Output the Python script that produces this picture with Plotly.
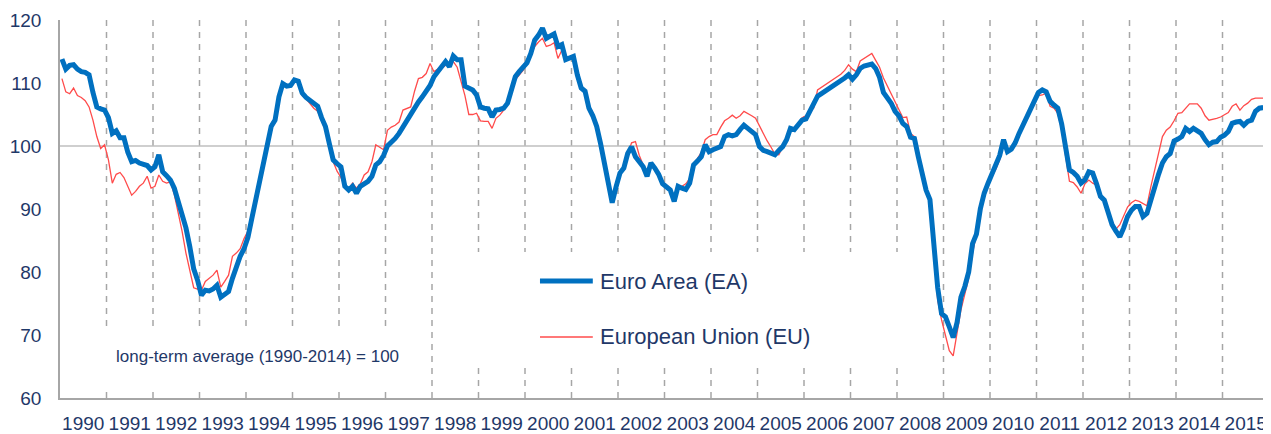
import plotly.graph_objects as go

years = list(range(1990, 2016))

ea_1990 = [113.8, 112.2, 112.8, 112.9, 112.2, 111.8, 111.7, 111.3, 108.5, 106.2, 105.9, 105.7]
ea_1991 = [104.5, 102.0, 102.4, 101.3, 101.3, 99.0, 97.5, 97.7, 97.3, 97.0, 96.9, 96.2]
ea_1992 = [96.7, 98.6, 95.9, 95.3, 94.6, 93.3, 91.0, 89.4, 87.0, 84.0, 80.5, 78.7]
ea_1993 = [76.3, 77.1, 77.0, 77.3, 77.9, 76.0, 76.4, 76.9, 79.0, 80.8, 82.5, 83.7]
ea_1994 = [85.5, 88.5, 91.4, 94.5, 97.2, 100.0, 103.1, 104.1, 107.8, 109.9, 109.5, 109.6]
ea_1995 = [110.5, 110.3, 108.4, 107.7, 107.2, 106.8, 106.3, 104.5, 103.1, 100.4, 97.8, 97.2]
ea_1996 = [96.7, 93.6, 93.0, 93.6, 92.5, 93.6, 94.0, 94.4, 95.2, 97.0, 97.5, 98.5]
ea_1997 = [100.0, 100.5, 101.2, 102.0, 103.0, 104.1, 105.2, 106.2, 107.0, 107.8, 108.8, 109.6]
ea_1998 = [111.0, 111.8, 112.9, 113.4, 112.6, 114.3, 113.7, 113.7, 109.5, 109.2, 108.9, 108.1]
ea_1999 = [106.2, 106.0, 105.9, 104.6, 105.7, 105.8, 106.0, 106.8, 109.0, 111.0, 111.8, 112.6]
ea_2000 = [113.2, 114.7, 116.8, 117.6, 118.7, 117.1, 117.4, 117.8, 115.8, 116.1, 113.7, 114.0]
ea_2001 = [114.2, 111.3, 109.2, 108.7, 106.0, 104.8, 103.1, 100.4, 97.2, 94.0, 91.0, 93.5]
ea_2002 = [95.7, 96.5, 98.8, 99.9, 98.3, 97.5, 96.7, 95.2, 97.3, 96.5, 95.5, 94.0]
ea_2003 = [93.6, 93.0, 91.2, 93.6, 93.3, 93.1, 94.1, 97.0, 97.6, 98.3, 100.2, 99.1]
ea_2004 = [99.4, 99.6, 99.9, 101.5, 101.8, 101.6, 101.8, 102.6, 103.3, 102.8, 102.3, 101.8]
ea_2005 = [99.9, 99.3, 99.1, 98.8, 98.6, 99.3, 99.9, 101.0, 102.8, 102.6, 103.3, 104.1]
ea_2006 = [104.3, 105.5, 106.5, 107.9, 108.3, 108.7, 109.2, 109.5, 109.8, 110.3, 110.8, 111.3]
ea_2007 = [110.6, 111.3, 112.3, 112.7, 112.9, 113.0, 112.3, 110.9, 108.5, 107.6, 106.8, 105.5]
ea_2008 = [104.8, 103.6, 103.1, 101.4, 101.2, 98.3, 95.2, 93.0, 91.5, 84.5, 77.5, 73.4]
ea_2009 = [72.9, 71.3, 69.6, 72.0, 76.0, 77.7, 80.0, 84.5, 86.0, 90.0, 92.5, 94.1]
ea_2010 = [95.5, 96.7, 98.5, 101.0, 99.1, 99.5, 100.5, 102.0, 103.2, 104.5, 106.0, 107.2]
ea_2011 = [108.5, 108.9, 108.6, 107.1, 106.5, 106.0, 103.5, 99.5, 96.2, 95.8, 95.2, 94.1]
ea_2012 = [94.6, 95.9, 95.7, 94.0, 92.0, 91.4, 89.5, 87.5, 86.5, 85.6, 87.0, 88.8]
ea_2013 = [89.8, 90.4, 90.4, 88.8, 89.3, 91.5, 93.3, 95.5, 97.3, 98.3, 98.8, 100.8]
ea_2014 = [101.1, 101.5, 102.8, 102.3, 102.8, 102.4, 102.0, 101.0, 100.2, 100.6, 100.7, 101.4]
ea_2015 = [101.7, 102.3, 103.6, 103.8, 103.9, 103.3, 103.9, 104.1, 105.5, 106.0, 106.1]

eu_1990 = [110.7, 108.6, 108.3, 109.2, 108.0, 107.7, 107.2, 106.2, 104.1, 101.5, 99.6, 100.2]
eu_1991 = [97.8, 94.1, 95.5, 95.8, 95.0, 93.6, 92.2, 92.8, 93.6, 94.1, 95.2, 93.3]
eu_1992 = [93.6, 95.4, 94.4, 94.1, 94.3, 92.3, 89.5, 86.5, 83.0, 80.0, 77.5, 77.3]
eu_1993 = [77.1, 78.5, 79.0, 79.5, 80.3, 77.6, 78.5, 79.5, 82.5, 83.0, 83.7, 85.3]
eu_1994 = [86.5, 89.5, 92.0, 95.0, 97.8, 100.5, 103.5, 104.5, 108.0, 109.7, 109.5, 109.8]
eu_1995 = [110.5, 110.0, 108.0, 107.5, 106.8, 106.0, 105.5, 104.0, 102.5, 100.0, 97.5, 96.0]
eu_1996 = [95.0, 93.5, 93.2, 94.1, 93.3, 94.0, 95.4, 95.9, 97.5, 100.2, 99.8, 99.4]
eu_1997 = [102.5, 103.0, 103.3, 103.8, 105.7, 106.0, 106.2, 108.7, 110.7, 110.9, 111.5, 113.1]
eu_1998 = [111.8, 112.2, 112.3, 112.8, 113.1, 113.4, 112.5, 110.4, 108.0, 105.0, 105.0, 105.2]
eu_1999 = [104.0, 103.9, 103.9, 102.8, 104.4, 104.9, 105.7, 107.0, 108.5, 110.5, 111.3, 112.0]
eu_2000 = [113.0, 114.5, 115.8, 116.5, 117.1, 115.8, 116.0, 116.4, 113.9, 115.2, 113.7, 113.9]
eu_2001 = [113.8, 111.2, 109.0, 108.5, 105.8, 104.6, 103.0, 100.4, 97.3, 94.3, 91.4, 93.7]
eu_2002 = [95.8, 96.8, 98.8, 100.5, 100.7, 98.5, 97.0, 96.0, 97.0, 96.5, 95.5, 94.4]
eu_2003 = [93.8, 93.3, 91.8, 93.6, 93.6, 94.0, 94.8, 97.2, 98.0, 99.0, 101.0, 101.5]
eu_2004 = [101.8, 101.8, 103.0, 104.0, 104.4, 104.9, 104.4, 104.8, 105.5, 105.2, 104.8, 104.4]
eu_2005 = [103.2, 101.8, 100.8, 99.8, 98.7, 98.6, 99.9, 100.7, 102.5, 102.6, 103.4, 104.5]
eu_2006 = [104.8, 105.5, 106.0, 108.9, 109.3, 109.7, 110.2, 110.5, 110.9, 111.4, 112.0, 112.9]
eu_2007 = [112.2, 111.8, 113.5, 113.9, 114.2, 114.7, 113.6, 112.5, 110.8, 109.5, 108.3, 107.0]
eu_2008 = [105.7, 104.5, 104.6, 102.0, 101.5, 98.0, 95.0, 93.0, 91.0, 83.5, 75.5, 72.4]
eu_2009 = [70.0, 67.5, 66.7, 70.5, 74.0, 76.5, 79.0, 83.0, 86.0, 89.5, 92.0, 93.7]
eu_2010 = [95.2, 96.3, 97.8, 101.0, 99.4, 99.7, 100.8, 102.2, 103.4, 104.6, 106.0, 107.0]
eu_2011 = [108.0, 108.1, 108.4, 106.3, 106.0, 105.2, 102.5, 98.5, 94.4, 94.2, 93.5, 92.5]
eu_2012 = [94.0, 94.6, 94.1, 93.8, 92.5, 91.0, 89.3, 88.0, 86.8, 87.5, 89.0, 90.3]
eu_2013 = [91.0, 91.4, 91.2, 90.8, 90.5, 93.5, 96.2, 99.0, 101.5, 102.5, 103.0, 104.0]
eu_2014 = [105.2, 105.3, 106.0, 106.7, 106.7, 106.7, 106.0, 104.8, 104.1, 104.2, 104.4, 104.6]
eu_2015 = [104.9, 105.3, 106.3, 106.7, 105.7, 106.4, 106.8, 107.4, 107.6, 107.6, 107.6]

ea = (ea_1990 + ea_1991 + ea_1992 + ea_1993 + ea_1994 + ea_1995 + ea_1996 + ea_1997 + ea_1998
      + ea_1999 + ea_2000 + ea_2001 + ea_2002 + ea_2003 + ea_2004 + ea_2005 + ea_2006 + ea_2007
      + ea_2008 + ea_2009 + ea_2010 + ea_2011 + ea_2012 + ea_2013 + ea_2014 + ea_2015)
eu = (eu_1990 + eu_1991 + eu_1992 + eu_1993 + eu_1994 + eu_1995 + eu_1996 + eu_1997 + eu_1998
      + eu_1999 + eu_2000 + eu_2001 + eu_2002 + eu_2003 + eu_2004 + eu_2005 + eu_2006 + eu_2007
      + eu_2008 + eu_2009 + eu_2010 + eu_2011 + eu_2012 + eu_2013 + eu_2014 + eu_2015)

months = list(range(len(ea)))  # month index from Jan 1990
n_cat = 12 * len(years)

NAVY = "#1f3868"
FONT = "Liberation Sans, Arial, sans-serif"
BLUE = "#0070c0"
RED = "#ff4b4b"

fig = go.Figure()
fig.add_trace(go.Scatter(x=months, y=eu, mode="lines", name="European Union (EU)",
                         line=dict(color=RED, width=1.3), showlegend=False))
fig.add_trace(go.Scatter(x=months, y=ea, mode="lines", name="Euro Area (EA)",
                         line=dict(color=BLUE, width=5), showlegend=False))

shapes = []
for k in range(len(years)):
    xb = 12 * (k + 1) - 0.5
    shapes.append(dict(type="line", xref="x", yref="paper", x0=xb, x1=xb, y0=0, y1=1,
                       line=dict(color="#a6a6a6", width=1.5, dash="6px,6px"), layer="below"))
# white backgrounds of legend and note boxes
shapes.append(dict(type="rect", xref="paper", yref="paper", x0=0.325, x1=0.712, y0=0.082, y1=0.386,
                   fillcolor="white", line=dict(width=0), layer="below"))
shapes.append(dict(type="rect", xref="paper", yref="paper", x0=0.03, x1=0.29, y0=0.032, y1=0.19,
                   fillcolor="white", line=dict(width=0), layer="below"))
# legend samples
shapes.append(dict(type="line", xref="paper", yref="paper", x0=0.397, x1=0.4407, y0=0.3095, y1=0.3095,
                   line=dict(color=BLUE, width=5)))
shapes.append(dict(type="line", xref="paper", yref="paper", x0=0.397, x1=0.4407, y0=0.1614, y1=0.1614,
                   line=dict(color=RED, width=1.3)))

annotations = [
    dict(text="Euro Area (EA)", xref="paper", yref="paper", x=0.4449, y=0.3095,
         xanchor="left", yanchor="middle", showarrow=False, font=dict(size=22, color=NAVY, family=FONT)),
    dict(text="European Union (EU)", xref="paper", yref="paper", x=0.4449, y=0.1614,
         xanchor="left", yanchor="middle", showarrow=False, font=dict(size=22, color=NAVY, family=FONT)),
    dict(text="long-term average (1990-2014) = 100", xref="paper", yref="paper", x=0.1635, y=0.1085,
         xanchor="center", yanchor="middle", showarrow=False, font=dict(size=17, color=NAVY, family=FONT)),
]

# the page body has an 8px default margin, so the figure is sized to sit inside the window
fig.update_layout(
    width=1263, height=426,
    margin=dict(l=52, r=2, t=12, b=36, autoexpand=False),
    paper_bgcolor="white", plot_bgcolor="white",
    shapes=shapes, annotations=annotations,
    font=dict(family=FONT, color=NAVY),
)
fig.update_xaxes(range=[-0.5, n_cat - 0.5], tickvals=[12 * k + 5.5 for k in range(len(years))],
                 ticktext=[str(y) for y in years], showgrid=False, zeroline=False,
                 showline=True, linecolor="#a6a6a6", linewidth=1.5, ticks="", tickangle=0,
                 automargin=False,
                 tickfont=dict(size=19, color=NAVY, family=FONT), ticklabelstandoff=7)
fig.update_yaxes(range=[60, 120], tickvals=[60, 70, 80, 90, 100, 110, 120],
                 showgrid=False, zeroline=False, showline=True, linecolor="#a6a6a6", linewidth=1.5,
                 ticks="", automargin=False,
                 tickfont=dict(size=19, color=NAVY, family=FONT), ticklabelstandoff=13)
fig.add_hline(y=100, line=dict(color="#bfbfbf", width=1.5), layer="below")

fig.write_html("out.html")
